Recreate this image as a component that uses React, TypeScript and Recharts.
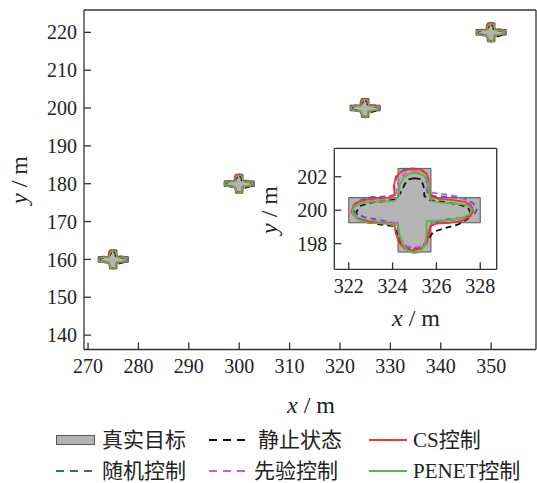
import React from "react";
import { ComposedChart, Line, Area, XAxis, YAxis } from "recharts";

// target centres in the scene (m)
const targetX = [275, 300, 325, 350];
const targetY = [160, 180, 200, 220];

const xTicks = [270, 280, 290, 300, 310, 320, 330, 340, 350];
const yTicks = [140, 150, 160, 170, 180, 190, 200, 210, 220];
const insetXTicks = [322, 324, 326, 328];
const insetYTicks = [198, 200, 202];

// 真实目标: cross outline, offsets from the centre
const crossOutline = [
  [-3, 0.75], [-0.75, 0.75], [-0.75, 2.5], [0.75, 2.5], [0.75, 0.75], [3, 0.75],
  [3, -0.75], [0.75, -0.75], [0.75, -2.5], [-0.75, -2.5], [-0.75, -0.75], [-3, -0.75], [-3, 0.75],
];
const crossFillX = [-3, -0.75, -0.75, 0.75, 0.75, 3];
const crossFillLo = [-0.75, -0.75, -2.5, -2.5, -0.75, -0.75];
const crossFillHi = [0.75, 0.75, 2.5, 2.5, 0.75, 0.75];

// reconstructed contours, offsets from the centre
const staticPts = [
  [0.0, 1.92], [0.3, 1.85], [0.42, 1.4], [0.45, 0.85], [0.7, 0.6], [1.3, 0.5], [2.0, 0.35],
  [2.45, 0.15], [2.53, -0.1], [2.44, -0.5], [2.0, -0.85], [1.3, -1.1], [0.85, -1.3], [0.65, -1.7],
  [0.4, -2.15], [0.0, -2.3], [-0.35, -2.2], [-0.7, -1.9], [-0.8, -1.35], [-0.95, -0.95],
  [-1.6, -0.85], [-2.3, -0.7], [-2.6, -0.45], [-2.65, -0.1], [-2.5, 0.25], [-2.0, 0.45],
  [-1.3, 0.55], [-0.9, 0.65], [-0.65, 1.0], [-0.45, 1.55], [-0.25, 1.85], [0.0, 1.92],
];
const randomPts = [
  [-0.13, 2.5], [0.3, 2.45], [0.55, 2.15], [0.55, 1.6], [0.6, 1.0], [0.9, 0.84], [1.6, 0.8],
  [2.3, 0.7], [2.7, 0.4], [2.84, 0.0], [2.7, -0.3], [2.2, -0.45], [1.5, -0.55], [0.85, -0.7],
  [0.65, -1.2], [0.6, -1.8], [0.4, -2.2], [0.0, -2.3], [-0.4, -2.2], [-0.65, -1.8], [-0.75, -1.2],
  [-0.85, -0.8], [-1.5, -0.6], [-2.2, -0.45], [-2.7, -0.2], [-2.86, 0.15], [-2.6, 0.55],
  [-2.0, 0.78], [-1.3, 0.82], [-0.9, 0.9], [-0.92, 1.5], [-0.8, 2.05], [-0.5, 2.4], [-0.13, 2.5],
];
const priorPts = [
  [0.0, 2.3], [0.35, 2.2], [0.55, 1.85], [0.6, 1.3], [0.8, 1.05], [1.4, 0.95], [2.1, 0.8],
  [2.5, 0.5], [2.65, 0.05], [2.5, -0.35], [2.0, -0.55], [1.3, -0.65], [0.8, -0.75], [0.6, -1.2],
  [0.55, -1.8], [0.35, -2.15], [0.0, -2.22], [-0.35, -2.15], [-0.6, -1.8], [-0.72, -1.2],
  [-0.85, -0.75], [-1.5, -0.7], [-2.2, -0.65], [-2.65, -0.4], [-2.82, 0.0], [-2.65, 0.4],
  [-2.1, 0.6], [-1.3, 0.68], [-0.85, 0.75], [-0.82, 1.3], [-0.7, 1.9], [-0.4, 2.22], [0.0, 2.3],
];
const csPts = [
  [-0.15, 2.45], [0.25, 2.42], [0.55, 2.2], [0.65, 1.8], [0.65, 1.3], [0.75, 0.85], [1.1, 0.68],
  [1.7, 0.62], [2.3, 0.5], [2.6, 0.25], [2.68, -0.05], [2.55, -0.35], [2.2, -0.62], [1.6, -0.75],
  [1.0, -0.8], [0.72, -0.95], [0.65, -1.5], [0.55, -2.0], [0.3, -2.3], [-0.05, -2.4],
  [-0.45, -2.3], [-0.7, -1.95], [-0.85, -1.4], [-0.9, -0.95], [-1.3, -0.78], [-2.0, -0.68],
  [-2.6, -0.5], [-2.88, -0.15], [-2.8, 0.25], [-2.5, 0.55], [-1.9, 0.7], [-1.2, 0.75],
  [-0.9, 0.9], [-0.95, 1.4], [-0.85, 2.0], [-0.55, 2.35], [-0.15, 2.45],
];
const penetPts = [
  [0.05, 2.22], [0.4, 2.1], [0.62, 1.7], [0.65, 1.1], [0.75, 0.55], [1.2, 0.45], [1.9, 0.4],
  [2.4, 0.3], [2.62, 0.05], [2.5, -0.25], [2.1, -0.48], [1.5, -0.6], [0.55, -0.65], [0.55, -1.3],
  [0.5, -2.0], [0.3, -2.45], [0.0, -2.58], [-0.3, -2.45], [-0.55, -2.0], [-0.7, -1.4],
  [-0.75, -0.9], [-1.3, -0.8], [-2.1, -0.75], [-2.6, -0.55], [-2.85, -0.2], [-2.78, 0.2],
  [-2.4, 0.45], [-1.7, 0.52], [-0.9, 0.55], [-0.7, 0.9], [-0.68, 1.5], [-0.5, 1.95],
  [-0.25, 2.18], [0.05, 2.22],
];

const curves = [
  { name: "静止状态", pts: staticPts, color: "#111111", dash: "6 4" },
  { name: "随机控制", pts: randomPts, color: "#3d5cc4", dash: "6 4" },
  { name: "先验控制", pts: priorPts, color: "#d458c8", dash: "6 4" },
  { name: "CS控制", pts: csPts, color: "#f5352a", dash: undefined },
  { name: "PENET控制", pts: penetPts, color: "#5cb848", dash: undefined },
];

const GRAY = "#b4b4b4";
const EDGE = "#555555";
const SERIF = "'Liberation Serif', 'Noto Sans CJK SC', serif";
const AXIS = { stroke: "#333", strokeWidth: 1.3 };

// tick labels drawn as plain serif text
const TickText = (p: any) => {
  const dy = p.verticalAnchor === "start" ? "0.71em" : p.verticalAnchor === "end" ? "0" : "0.355em";
  return (
    <text x={p.x} y={p.y} dy={dy} textAnchor={p.textAnchor} fill="#222" fontSize={20}
      style={{ fontFamily: "'Liberation Serif', serif" }}>
      {p.payload.value}
    </text>
  );
};

const place = (pts: number[][], cx: number, cy: number) =>
  pts.map(([dx, dy]) => ({ x: cx + dx, y: cy + dy }));

const renderTarget = (cx: number, cy: number, key: string, sw: number) => {
  const fill = crossFillX.map((dx, i) => ({
    x: cx + dx,
    r: [cy + crossFillLo[i], cy + crossFillHi[i]],
  }));
  const items = [
    <Area key={key + "f"} xAxisId="b" yAxisId="l" data={fill} dataKey="r" type="linear"
      stroke="none" fill={GRAY} fillOpacity={1} isAnimationActive={false} />,
    <Line key={key + "o"} xAxisId="b" yAxisId="l" data={place(crossOutline, cx, cy)} dataKey="y"
      type="linear" stroke={EDGE} strokeWidth={1} dot={false} activeDot={false} isAnimationActive={false} />,
  ];
  curves.forEach((c, j) => {
    items.push(
      <Line key={key + "c" + j} xAxisId="b" yAxisId="l" data={place(c.pts, cx, cy)} dataKey="y"
        type="linear" stroke={c.color} strokeWidth={sw} strokeDasharray={c.dash}
        dot={false} activeDot={false} isAnimationActive={false} />
    );
  });
  return items;
};

const Axes = ({ xd, yd, xt, yt, bottomH, leftW }: any) => [
  <XAxis key="xb" xAxisId="b" type="number" dataKey="x" domain={xd} ticks={xt} interval={0}
    allowDataOverflow height={bottomH} axisLine={AXIS} tickLine={AXIS} tick={TickText}
    tickSize={-7} tickMargin={16} />,
  <XAxis key="xt" xAxisId="t" orientation="top" type="number" dataKey="x" domain={xd} ticks={xt}
    interval={0} allowDataOverflow height={1} axisLine={AXIS} tickLine={AXIS} tick={false} tickSize={-7} />,
  <YAxis key="yl" yAxisId="l" type="number" domain={yd} ticks={yt} interval={0} allowDataOverflow
    width={leftW} axisLine={AXIS} tickLine={AXIS} tick={TickText} tickSize={-7} tickMargin={14} />,
  <YAxis key="yr" yAxisId="r" orientation="right" type="number" domain={yd} ticks={yt} interval={0}
    allowDataOverflow width={1} axisLine={AXIS} tickLine={AXIS} tick={false} tickSize={-7} />,
];

const Title = ({ x, y, v, rot }: { x: number; y: number; v: string; rot?: boolean }) => (
  <div style={{
    position: "absolute", left: x, top: y, whiteSpace: "nowrap",
    transform: `translate(-50%,-50%)${rot ? " rotate(-90deg)" : ""}`,
    fontFamily: SERIF, fontSize: 24, color: "#222", lineHeight: 1,
  }}>
    <i>{v}</i> / m
  </div>
);

const Swatch = ({ color, dash, box }: { color: string; dash?: string; box?: boolean }) => (
  <svg width={40} height={12} style={{ display: "block" }}>
    {box ? (
      <rect x={0.5} y={1.5} width={38} height={9} fill={GRAY} stroke={EDGE} strokeWidth={1} />
    ) : (
      <line x1={0} y1={6} x2={38} y2={6} stroke={color} strokeWidth={2} strokeDasharray={dash ? "8 6" : undefined} />
    )}
  </svg>
);

const LegendItem = ({ left, top, gap, label, ...s }: any) => (
  <div style={{ position: "absolute", left, top, transform: "translateY(-50%)", display: "flex",
    alignItems: "center", fontFamily: SERIF, fontSize: 21, lineHeight: "26px", color: "#222", whiteSpace: "nowrap" }}>
    <Swatch {...s} />
    <span style={{ marginLeft: gap }}>{label}</span>
  </div>
);

export default function App() {
  return (
    <div style={{ position: "absolute", left: 0, top: 0, width: 537, height: 483, background: "#fff",
      overflow: "hidden", fontFamily: SERIF }}>
      <div style={{ position: "absolute", left: 0, top: 0 }}>
        <ComposedChart width={537} height={483} margin={{ top: 9, right: 0, bottom: 0, left: 0 }}>
          {Axes({ xd: [269.2, 358.9], yd: [136.2, 225.9], xt: xTicks, yt: yTicks, bottomH: 133.5, leftW: 84 })}
          {targetX.map((cx, i) => renderTarget(cx, targetY[i], "m" + i, 1.4))}
        </ComposedChart>
      </div>
      <div style={{ position: "absolute", left: 0, top: 0 }}>
        <ComposedChart width={537} height={483} margin={{ top: 147.3, right: 39.3, bottom: 0, left: 0 }}>
          {Axes({ xd: [321.34, 328.75], yd: [196.47, 203.7], xt: insetXTicks, yt: insetYTicks, bottomH: 213.7, leftW: 334.3 })}
          {renderTarget(325, 200, "in", 1.8)}
        </ComposedChart>
      </div>
      <Title x={311} y={405} v="x" />
      <Title x={19} y={180} v="y" rot />
      <Title x={416} y={318} v="x" />
      <Title x={269} y={210} v="y" rot />
      <LegendItem left={56} top={440} gap={6} label="真实目标" box color={GRAY} />
      <LegendItem left={209} top={440} gap={9} label="静止状态" color="#111" dash />
      <LegendItem left={369} top={440} gap={4} label="CS控制" color="#f5352a" />
      <LegendItem left={56} top={471} gap={6} label="随机控制" color="#3d5cc4" dash />
      <LegendItem left={209} top={471} gap={5} label="先验控制" color="#d458c8" dash />
      <LegendItem left={369} top={471} gap={4} label="PENET控制" color="#5cb848" />
    </div>
  );
}
